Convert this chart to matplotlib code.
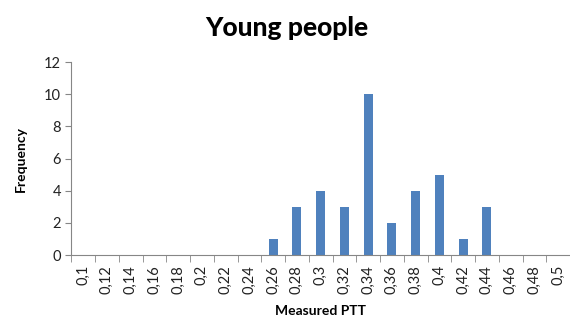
import matplotlib.pyplot as plt
import numpy as np

plt.rcParams['font.family'] = ['Lato', 'DejaVu Sans']

categories = ['0,1', '0,12', '0,14', '0,16', '0,18', '0,2', '0,22', '0,24', '0,26', '0,28',
              '0,3', '0,32', '0,34', '0,36', '0,38', '0,4', '0,42', '0,44', '0,46', '0,48', '0,5']
frequency = [0, 0, 0, 0, 0, 0, 0, 0, 1, 3, 4, 3, 10, 2, 4, 5, 1, 3, 0, 0, 0]
y_ticks = [0, 2, 4, 6, 8, 10, 12]

fig = plt.figure(figsize=(5.7, 3.27), dpi=100)
ax = fig.add_axes([0.125, 0.22, 0.875, 0.59])

x = np.arange(len(categories))
ax.bar(x, frequency, width=0.38, color='#4F81BD')

ax.set_xlim(-0.5, len(categories) - 0.5)
ax.set_ylim(0, 12)
ax.set_yticks(y_ticks)
ax.set_yticklabels([str(v) for v in y_ticks], fontsize=10.5, color='#222222')

# category labels centred, tick marks between categories (Excel style)
ax.set_xticks(x)
ax.set_xticklabels(categories, rotation=90, fontsize=10.5, color='#222222')
ax.tick_params(axis='x', which='major', length=0, pad=7)
ax.set_xticks(np.arange(-0.5, len(categories), 1), minor=True)
ax.tick_params(axis='x', which='minor', length=5, color='#868686', direction='out')
ax.tick_params(axis='y', length=4, color='#868686', direction='out')

for s in ['top', 'right']:
    ax.spines[s].set_visible(False)
ax.spines['left'].set_color('#868686')
ax.spines['bottom'].set_color('#868686')

fig.suptitle('Young people', x=0.503, y=0.95, fontsize=19, fontweight='black')
ax.set_xlabel('Measured PTT', fontsize=10, fontweight='bold', labelpad=8)
ax.set_ylabel('Frequency', fontsize=10, fontweight='bold', labelpad=12)

fig.savefig('out.png', dpi=100)
